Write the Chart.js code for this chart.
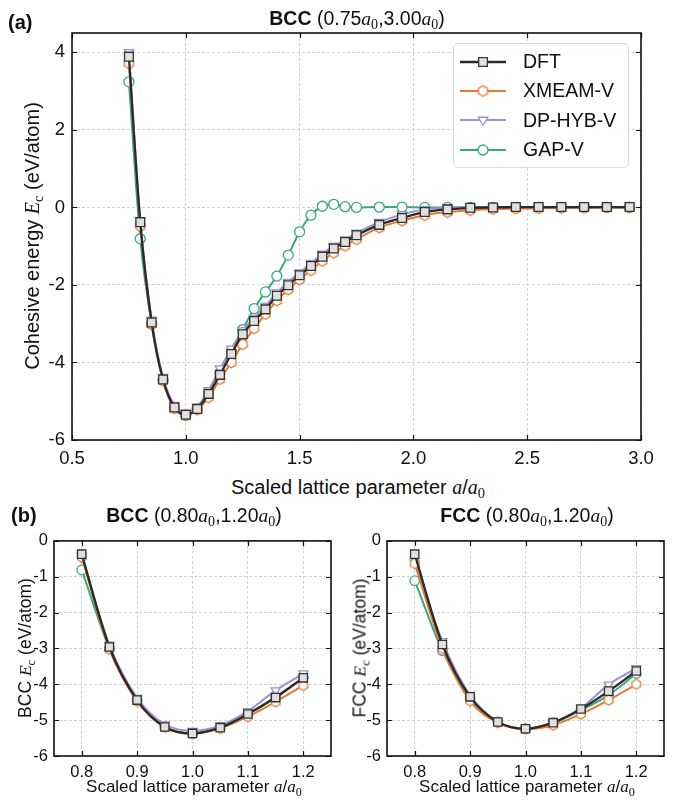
<!DOCTYPE html>
<html>
<head>
<meta charset="utf-8">
<script src="https://cdn.jsdelivr.net/npm/chart.js@4.4.1/dist/chart.umd.min.js"></script>
<style>
body { margin: 0; background: #fff; font-family: "Liberation Sans", Arial, sans-serif; color: #111; }
#wrap { position: relative; width: 673px; height: 800px; overflow: hidden; }
#wrap canvas.chart { position: absolute; }
.t { position: absolute; white-space: nowrap; transform: translate(-50%, -50%); }
.rot { transform: translate(-50%, -50%) rotate(-90deg); }
.m { font-family: "Liberation Serif", serif; font-style: italic; }
.sub { font-family: "Liberation Serif", serif; font-size: 0.72em; position: relative; top: 0.3em; }
.lbl { position: absolute; font-weight: bold; font-size: 20px; transform: translateY(-50%); }
#legend { position: absolute; left: 453px; top: 43px; width: 176px; height: 125px; border: 1px solid #d8d8d8;
  border-radius: 5px; background: rgba(255,255,255,0.9); box-sizing: border-box; padding-top: 3px; }
#legend .row { display: flex; align-items: center; height: 29.3px; font-size: 19.5px; }
#legend .row canvas { margin-left: 6px; margin-right: 17px; }
</style>
</head>
<body>
<div id="wrap">
  <canvas id="ca" class="chart" width="673" height="475" style="left:0;top:0"></canvas>
  <canvas id="cb" class="chart" width="340" height="275" style="left:0;top:525px"></canvas>
  <canvas id="cc" class="chart" width="333" height="275" style="left:340px;top:525px"></canvas>

  <div class="lbl" style="left:8px;top:22px">(a)</div>
  <div class="t" style="left:357px;top:18px;font-size:19.5px"><b>BCC</b> (0.75<span class="m">a</span><span class="sub">0</span>,3.00<span class="m">a</span><span class="sub">0</span>)</div>
  <div class="t rot" style="left:32px;top:236px;font-size:20px">Cohesive energy <span class="m">E</span><span class="sub">c</span> (eV/atom)</div>
  <div class="t" style="left:358px;top:487px;font-size:20px">Scaled lattice parameter <span class="m">a</span>/<span class="m">a</span><span class="sub">0</span></div>
  <div id="legend"></div>

  <div class="lbl" style="left:11px;top:515px">(b)</div>
  <div class="t" style="left:194px;top:515px;font-size:19.5px"><b>BCC</b> (0.80<span class="m">a</span><span class="sub">0</span>,1.20<span class="m">a</span><span class="sub">0</span>)</div>
  <div class="t rot" style="left:25px;top:648px;font-size:17.5px">BCC <span class="m">E</span><span class="sub">c</span> (eV/atom)</div>
  <div class="t" style="left:194px;top:787px;font-size:17px">Scaled lattice parameter <span class="m">a</span>/<span class="m">a</span><span class="sub">0</span></div>

  <div class="t" style="left:527px;top:515px;font-size:19.5px"><b>FCC</b> (0.80<span class="m">a</span><span class="sub">0</span>,1.20<span class="m">a</span><span class="sub">0</span>)</div>
  <div class="t rot" style="left:360px;top:648px;font-size:17.5px">FCC <span class="m">E</span><span class="sub">c</span> (eV/atom)</div>
  <div class="t" style="left:527px;top:787px;font-size:17px">Scaled lattice parameter <span class="m">a</span>/<span class="m">a</span><span class="sub">0</span></div>
</div>

<script>
// ---- data: (a) BCC 0.75a0..3.00a0
var xA = [0.75, 0.80, 0.85, 0.90, 0.95, 1.00, 1.05, 1.10, 1.15, 1.20, 1.25, 1.30, 1.35, 1.40, 1.45,
          1.50, 1.55, 1.60, 1.65, 1.70, 1.75, 1.85, 1.95, 2.05, 2.15, 2.25, 2.35, 2.45, 2.55, 2.65,
          2.75, 2.85, 2.95];
var dftA = [3.89, -0.38, -2.97, -4.44, -5.16, -5.35, -5.20, -4.81, -4.32, -3.78, -3.27, -2.93, -2.63, -2.28, -2.01,
            -1.75, -1.51, -1.27, -1.06, -0.89, -0.72, -0.45, -0.27, -0.12, -0.05, -0.01, 0.00, 0.01, 0.01, 0.01,
            0.01, 0.01, 0.01];
var xmeamA = [3.72, -0.48, -3.02, -4.47, -5.18, -5.36, -5.22, -4.90, -4.43, -4.00, -3.53, -3.12, -2.75, -2.40, -2.12,
              -1.86, -1.62, -1.38, -1.17, -0.99, -0.82, -0.52, -0.34, -0.20, -0.12, -0.07, -0.04, -0.03, -0.02, -0.01,
              -0.01, 0.00, 0.00];
var dpA = [4.00, -0.35, -2.90, -4.38, -5.10, -5.30, -5.14, -4.72, -4.16, -3.65, -3.18, -2.85, -2.55, -2.20, -1.93,
           -1.68, -1.44, -1.20, -1.00, -0.83, -0.66, -0.38, -0.18, -0.05, 0.00, 0.01, 0.01, 0.01, 0.01, 0.01,
           0.01, 0.01, 0.01];
var gapA = [3.24, -0.81, -3.00, -4.45, -5.17, -5.36, -5.20, -4.80, -4.28, -3.72, -3.15, -2.61, -2.18, -1.77, -1.23,
            -0.63, -0.20, 0.03, 0.08, 0.02, 0.00, 0.01, 0.01, 0.00, 0.00, 0.00, 0.00, 0.00, 0.00, 0.00,
            0.00, 0.00, 0.00];
var xTicksA = [0.5, 1.0, 1.5, 2.0, 2.5, 3.0];
var yTicksA = [-6, -4, -2, 0, 2, 4];

// ---- data: (b) BCC and FCC 0.80a0..1.20a0
var xB = [0.80, 0.85, 0.90, 0.95, 1.00, 1.05, 1.10, 1.15, 1.20];
var bccDft   = [-0.37, -2.96, -4.44, -5.19, -5.37, -5.21, -4.83, -4.37, -3.82];
var bccXmeam = [-0.45, -3.02, -4.47, -5.20, -5.38, -5.23, -4.90, -4.49, -4.03];
var bccDp    = [-0.40, -2.90, -4.38, -5.12, -5.30, -5.15, -4.75, -4.17, -3.70];
var bccGap   = [-0.81, -3.00, -4.45, -5.18, -5.37, -5.20, -4.82, -4.35, -3.82];
var fccDft   = [-0.37, -2.89, -4.35, -5.05, -5.24, -5.07, -4.69, -4.19, -3.63];
var fccXmeam = [-0.63, -3.00, -4.46, -5.07, -5.25, -5.14, -4.83, -4.44, -4.00];
var fccDp    = [-0.60, -2.80, -4.30, -5.04, -5.23, -5.07, -4.67, -4.01, -3.55];
var fccGap   = [-1.11, -3.06, -4.38, -5.05, -5.24, -5.08, -4.72, -4.30, -3.70];
var xTicksB = [0.8, 0.9, 1.0, 1.1, 1.2];
var yTicksB = [-6, -5, -4, -3, -2, -1, 0];

var names = ['DFT', 'XMEAM-V', 'DP-HYB-V', 'GAP-V'];
var colors = ['#2a2a2a', '#e8782e', '#9a92d0', '#36a883'];

// hexagon marker for XMEAM
function hexImg(color, r) {
  var c = document.createElement('canvas');
  c.width = c.height = Math.ceil(2 * r + 4);
  var g = c.getContext('2d'), m = c.width / 2;
  g.beginPath();
  for (var i = 0; i < 6; i++) {
    var a = Math.PI / 3 * i + Math.PI / 6;
    g.lineTo(m + r * Math.cos(a), m + r * Math.sin(a));
  }
  g.closePath();
  g.fillStyle = '#fff'; g.fill();
  g.lineWidth = 1.3; g.strokeStyle = color; g.stroke();
  return c;
}

function styles(scale) {
  return [
    { pointStyle: 'rect', pointRadius: 6.2 * scale, pointBackgroundColor: '#e0e0e0', pointBorderColor: '#333', pointBorderWidth: 1.3, borderWidth: 2.3 },
    { pointStyle: hexImg(colors[1], 5.2 * scale), pointRadius: 5 * scale, borderWidth: 2 },
    { pointStyle: 'triangle', rotation: 180, pointRadius: 5.5 * scale, pointBackgroundColor: '#fff', pointBorderColor: colors[2], pointBorderWidth: 1.3, borderWidth: 2 },
    { pointStyle: 'circle', pointRadius: 5 * scale, pointBackgroundColor: '#fff', pointBorderColor: colors[3], pointBorderWidth: 1.3, borderWidth: 2 }
  ];
}

// closed frame with inward ticks on all four sides
var frame = {
  id: 'frame',
  afterDatasetsDraw: function (chart) {
    var ctx = chart.ctx, a = chart.chartArea, x = chart.scales.x, y = chart.scales.y, len = 5;
    ctx.save();
    ctx.strokeStyle = '#111';
    ctx.lineWidth = 1.2;
    ctx.beginPath();
    x.ticks.forEach(function (t) {
      var p = Math.round(x.getPixelForValue(t.value)) + 0.5;
      ctx.moveTo(p, a.top); ctx.lineTo(p, a.top + len);
      ctx.moveTo(p, a.bottom); ctx.lineTo(p, a.bottom - len);
    });
    y.ticks.forEach(function (t) {
      var p = Math.round(y.getPixelForValue(t.value)) + 0.5;
      ctx.moveTo(a.left, p); ctx.lineTo(a.left + len, p);
      ctx.moveTo(a.right, p); ctx.lineTo(a.right - len, p);
    });
    ctx.stroke();
    ctx.lineWidth = 1.6;
    ctx.strokeRect(a.left, a.top, a.right - a.left, a.bottom - a.top);
    ctx.restore();
  }
};

function makeChart(id, xs, series, o) {
  var st = styles(o.marker);
  var datasets = series.map(function (ys, i) {
    var d = {
      label: names[i],
      data: xs.map(function (v, j) { return { x: v, y: ys[j] }; }),
      borderColor: colors[i],
      cubicInterpolationMode: 'monotone',
      pointHoverRadius: 0
    };
    return Object.assign(d, st[i]);
  });
  return new Chart(document.getElementById(id), {
    type: 'line',
    data: { datasets: datasets },
    plugins: [frame],
    options: {
      responsive: false,
      animation: false,
      events: [],
      clip: false,
      layout: { padding: o.pad },
      plugins: { legend: { display: false }, tooltip: { enabled: false } },
      scales: {
        x: {
          type: 'linear', min: o.xMin, max: o.xMax,
          afterBuildTicks: function (s) { s.ticks = o.xTicks.map(function (v) { return { value: v }; }); },
          afterFit: function (s) { s.height = o.xH; },
          ticks: { color: '#111', font: { family: 'Liberation Sans', size: o.font }, padding: o.xPad,
                   maxRotation: 0, callback: function (v) { return v.toFixed(1); } },
          grid: { color: '#c8c8c8', lineWidth: 0.8, drawTicks: false },
          border: { display: false, dash: [3, 2] }
        },
        y: {
          min: o.yMin, max: o.yMax,
          afterBuildTicks: function (s) { s.ticks = o.yTicks.map(function (v) { return { value: v }; }); },
          afterFit: function (s) { s.width = o.yW; },
          ticks: { color: '#111', font: { family: 'Liberation Sans', size: o.font }, padding: o.yPad,
                   callback: function (v) { return String(v); } },
          grid: { color: '#c8c8c8', lineWidth: 0.8, drawTicks: false },
          border: { display: false, dash: [3, 2] }
        }
      }
    }
  });
}

makeChart('ca', xA, [dftA, xmeamA, dpA, gapA], {
  marker: 1, pad: { top: 33, right: 32, left: 0, bottom: 0 }, xMin: 0.5, xMax: 3.0, yMin: -6, yMax: 4.5,
  xTicks: xTicksA, yTicks: yTicksA, xH: 35, yW: 72, font: 18.5, xPad: 8, yPad: 7
});
makeChart('cb', xB, [bccDft, bccXmeam, bccDp, bccGap], {
  marker: 0.95, pad: { top: 15, right: 9, left: 0, bottom: 0 }, xMin: 0.75, xMax: 1.25, yMin: -6, yMax: 0,
  xTicks: xTicksB, yTicks: yTicksB, xH: 44, yW: 54, font: 16.5, xPad: 7, yPad: 6
});
makeChart('cc', xB, [fccDft, fccXmeam, fccDp, fccGap], {
  marker: 0.95, pad: { top: 15, right: 9, left: 0, bottom: 0 }, xMin: 0.75, xMax: 1.25, yMin: -6, yMax: 0,
  xTicks: xTicksB, yTicks: yTicksB, xH: 44, yW: 47, font: 16.5, xPad: 7, yPad: 6
});

// legend (html rows, glyph drawn in a small canvas)
var legend = document.getElementById('legend');
var st = styles(1);
names.forEach(function (n, i) {
  var row = document.createElement('div');
  row.className = 'row';
  var c = document.createElement('canvas');
  c.width = 46; c.height = 22;
  var g = c.getContext('2d');
  g.strokeStyle = colors[i]; g.lineWidth = st[i].borderWidth;
  g.beginPath(); g.moveTo(0, 11); g.lineTo(46, 11); g.stroke();
  var s = st[i];
  if (typeof s.pointStyle !== 'string') {
    g.drawImage(s.pointStyle, 23 - s.pointStyle.width / 2, 11 - s.pointStyle.height / 2);
  } else {
    g.fillStyle = s.pointBackgroundColor; g.strokeStyle = s.pointBorderColor; g.lineWidth = s.pointBorderWidth;
    Chart.helpers.drawPoint(g, { pointStyle: s.pointStyle, rotation: s.rotation || 0, radius: s.pointRadius, borderWidth: s.pointBorderWidth }, 23, 11);
  }
  row.appendChild(c);
  var t = document.createElement('span');
  t.textContent = n;
  row.appendChild(t);
  legend.appendChild(row);
});
</script>
</body>
</html>
